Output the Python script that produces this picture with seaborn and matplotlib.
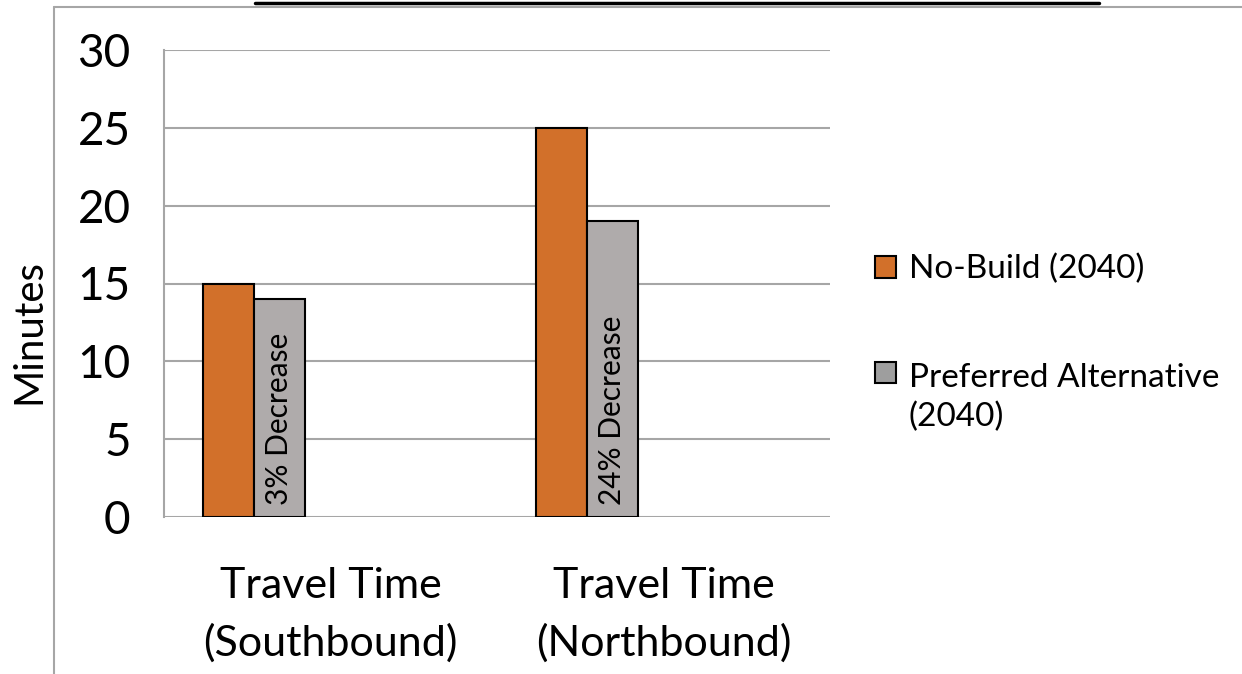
import pandas as pd
import numpy as np
import matplotlib
matplotlib.use("Agg")
import matplotlib.pyplot as plt
import seaborn as sns
from matplotlib.lines import Line2D
from matplotlib.patches import Patch, Rectangle
from matplotlib.legend_handler import HandlerPatch

# data
categories = ["Travel Time\n(Southbound)", "Travel Time\n(Northbound)"]
no_build = [15, 25]
preferred = [14, 19]
series_names = ["No-Build (2040)", "Preferred Alternative\n(2040)"]
bar_notes = ["3% Decrease", "24% Decrease"]

# the original Excel chart reserved room for 5 series, 3 of them empty
dummy = ["_d1", "_d2", "_d3"]
hue_order = series_names + dummy

rows = []
for i, cat in enumerate(categories):
    rows.append({"cat": cat, "series": series_names[0], "minutes": no_build[i]})
    rows.append({"cat": cat, "series": series_names[1], "minutes": preferred[i]})
    for d in dummy:
        rows.append({"cat": cat, "series": d, "minutes": 0.0})
df = pd.DataFrame(rows)

orange = "#D2702A"
gray = "#AFABAB"
grid_gray = "#A6A6A6"
palette = {series_names[0]: orange, series_names[1]: gray}
for d in dummy:
    palette[d] = "white"

sns.set_style("white")
plt.rcParams["font.family"] = ["Lato", "DejaVu Sans"]
plt.rcParams["text.color"] = "black"
plt.rcParams["xtick.color"] = "black"
plt.rcParams["ytick.color"] = "black"
plt.rcParams["axes.labelcolor"] = "black"

fig = plt.figure(figsize=(12.42, 6.74), dpi=100)
ax = fig.add_axes([164 / 1242, 1 - 517 / 674, (830 - 164) / 1242, (517 - 50) / 674])

sns.barplot(data=df, x="cat", y="minutes", hue="series", hue_order=hue_order,
            order=categories, palette=palette, width=0.766, saturation=1, ax=ax,
            edgecolor="black", linewidth=1.5, legend=False)

# hide the empty placeholder bars
for cont in ax.containers[2:]:
    for patch in cont:
        patch.set_visible(False)

ax.set_ylim(0, 30)
ax.set_xlim(-0.5, 1.5)
ax.set_yticks(range(0, 31, 5))
ax.yaxis.grid(True, color=grid_gray, linewidth=1.5)
ax.set_axisbelow(True)

for s in ["top", "right", "bottom"]:
    ax.spines[s].set_visible(False)
ax.spines["left"].set_color(grid_gray)
ax.spines["left"].set_linewidth(1.5)

ax.tick_params(axis="y", which="major", length=11, width=1.2, color=grid_gray,
               labelsize=33, labelcolor="black", pad=13)
ax.tick_params(axis="x", which="major", length=0, labelsize=31, labelcolor="black", pad=36)
ax.set_xticks([-0.5, 0.5, 1.5], minor=True)
ax.tick_params(axis="x", which="minor", length=11, width=1.2, color=grid_gray)
for lab in ax.get_xticklabels():
    lab.set_linespacing(1.55)

ax.set_xlabel("")
ax.set_ylabel("Minutes", fontsize=29)
ax.yaxis.set_label_coords(-117 / 666, 0.398)

# rotated notes inside the preferred-alternative bars
for bar, note in zip(ax.containers[1], bar_notes):
    ax.text(bar.get_x() + bar.get_width() / 2, 0.75, note, rotation=90,
            ha="center", va="bottom", fontsize=21.5)


def square_at_first_line(shift):
    def make(legend, orig_handle, xdescent, ydescent, width, height, fontsize):
        return Rectangle((-xdescent, -ydescent + shift * fontsize), width, height)
    return make


handles = [Patch(facecolor=orange, edgecolor="black", linewidth=1.5),
           Patch(facecolor="#9E9E9E", edgecolor="black", linewidth=1.5)]
leg = ax.legend(handles, series_names, loc="center left",
                bbox_to_anchor=(845 / 1242, 1 - 343 / 674), bbox_transform=fig.transFigure,
                frameon=False, fontsize=24, handlelength=0.62, handleheight=0.62,
                handletextpad=0.4, labelspacing=2.35,
                handler_map={handles[1]: HandlerPatch(patch_func=square_at_first_line(0.75))})
for t in leg.get_texts():
    t.set_linespacing(1.35)

# frame lines and cut-off title underline from the source document
fig.add_artist(Line2D([54 / 1242, 54 / 1242], [0, 1 - 7 / 674], color=grid_gray, lw=1.5))
fig.add_artist(Line2D([54 / 1242, 1], [1 - 7 / 674, 1 - 7 / 674], color=grid_gray, lw=1.5))
fig.add_artist(Line2D([255 / 1242, 1099 / 1242], [1 - 3 / 674, 1 - 3 / 674], color="black", lw=2.5))

fig.savefig("out.png", dpi=100)
